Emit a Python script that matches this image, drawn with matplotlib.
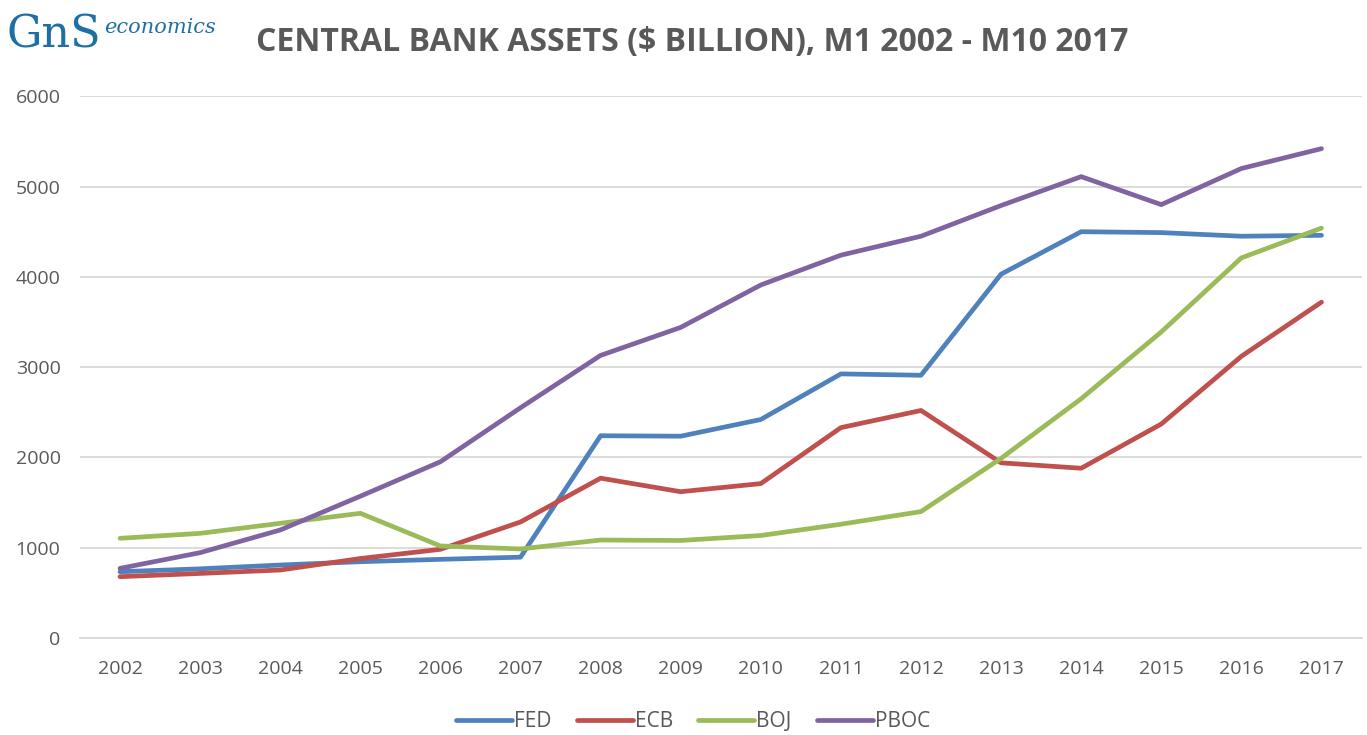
import matplotlib.pyplot as plt
import numpy as np

years = [str(y) for y in range(2002, 2018)]
fed = [734, 766, 808, 845, 871, 895, 2240, 2235, 2420, 2925, 2910, 4030, 4500, 4490, 4450, 4460]
ecb = [679, 715, 753, 880, 982, 1285, 1770, 1620, 1710, 2330, 2520, 1940, 1880, 2370, 3120, 3720]
boj = [1104, 1159, 1270, 1381, 1019, 986, 1085, 1080, 1135, 1260, 1400, 1990, 2650, 3390, 4210, 4540]
pboc = [771, 945, 1196, 1570, 1952, 2550, 3130, 3440, 3910, 4240, 4450, 4790, 5110, 4800, 5200, 5420]

series = [("FED", fed, "#4F81BD"), ("ECB", ecb, "#C0504D"),
          ("BOJ", boj, "#9BBB59"), ("PBOC", pboc, "#8064A2")]

plt.rcParams['font.family'] = ['Open Sans', 'DejaVu Sans']

fig = plt.figure(figsize=(13.67, 7.35), dpi=100)
ax = fig.add_axes([0.0585, 0.132, 0.9375, 0.737])

x = np.arange(len(years))
for name, vals, col in series:
    ax.plot(x, vals, color=col, lw=3.4, label=name, solid_capstyle='round')

ax.set_xlim(-0.5, len(years) - 0.5)
ax.set_ylim(0, 6000)
ax.set_yticks(range(0, 6001, 1000))
ax.set_xticks(x)
ax.set_xticklabels(years)
ax.grid(axis='y', color='#d9d9d9', lw=1.3)
ax.set_axisbelow(True)
for s in ['top', 'right', 'left']:
    ax.spines[s].set_visible(False)
ax.spines['bottom'].set_color('#d9d9d9')
ax.spines['bottom'].set_linewidth(1.3)
ax.tick_params(axis='both', length=0, labelsize=14, labelcolor='#595959')
ax.tick_params(axis='x', pad=16)
ax.tick_params(axis='y', pad=14)

fig.text(0.506, 0.942, "CENTRAL BANK ASSETS ($ BILLION), M1 2002 - M10 2017",
         ha='center', va='center', fontsize=23, fontweight='bold', color='#595959')

# logo
fig.text(0.005, 0.953, "GnS", fontsize=32, color='#1F6FA3', ha='left', va='center',
         family='DejaVu Serif')
fig.text(0.076, 0.963, "economics", fontsize=15, color='#1F6FA3', ha='left', va='center',
         family='DejaVu Serif', style='italic')

fig.legend(loc='center', bbox_to_anchor=(0.507, 0.018), ncol=4, frameon=False,
           fontsize=15, handlelength=2.7, columnspacing=1.2, handletextpad=0.1,
           labelcolor='#595959')

fig.savefig("out.png", dpi=100)
